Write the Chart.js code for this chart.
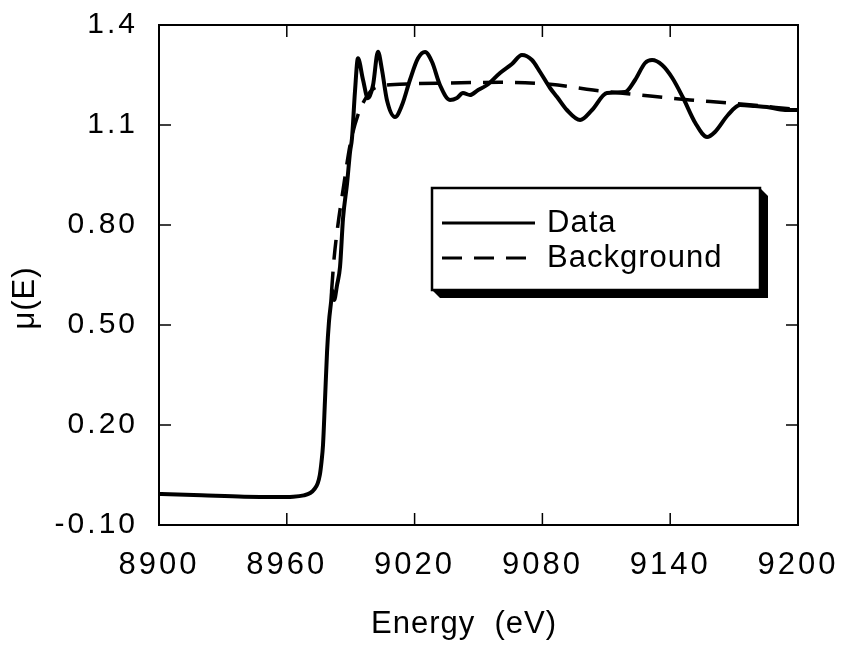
<!DOCTYPE html>
<html>
<head>
<meta charset="utf-8">
<script src="https://cdn.jsdelivr.net/npm/chart.js@4.4.0/dist/chart.umd.min.js"></script>
<style>
    html, body { margin: 0; padding: 0; background: #fff; }
    #wrap { width: 842px; height: 646px; }
</style>
</head>
<body>
<div id="wrap"><canvas id="xas"></canvas></div>
<script>
const dataEnergy = [
    8900, 8920, 8940, 8955, 8963, 8968, 8971, 8973, 8974.5, 8975.5,
    8976.3, 8977, 8977.9, 8978.9, 8979.8, 8980.8, 8981.3, 8982.2, 8983.6, 8985,
    8986.4, 8988.3, 8989.7, 8990.6, 8992, 8993.4, 8995.8, 8998.1, 9000.5, 9002.8,
    9004.7, 9007, 9010.8, 9014.1, 9017.8, 9021.6, 9024.9, 9028.2, 9031.9, 9036.6,
    9039.9, 9042.7, 9046, 9049.8, 9054, 9060.1, 9065.7, 9070.4, 9075.1, 9078.9,
    9083.6, 9086.9, 9091.5, 9097.7, 9103.3, 9110.3, 9118.8, 9123.5, 9128.2, 9131.5,
    9136.2, 9141, 9146.1, 9151.8, 9157.3, 9161, 9167.1, 9172.8, 9179.8, 9185.4,
    9193.9, 9200
]
const dataMu = [
    -0.007, -0.011, -0.015, -0.016, -0.015, -0.011, -0.004, 0.008, 0.025, 0.05,
    0.09, 0.14, 0.27, 0.42, 0.51, 0.57, 0.605, 0.575, 0.62, 0.675,
    0.82, 0.925, 1.02, 1.06, 1.2, 1.3, 1.235, 1.18, 1.22, 1.32,
    1.265, 1.175, 1.124, 1.16, 1.235, 1.3, 1.319, 1.289, 1.22, 1.175,
    1.181, 1.196, 1.19, 1.205, 1.22, 1.256, 1.283, 1.31, 1.295, 1.259,
    1.211, 1.184, 1.145, 1.115, 1.145, 1.196, 1.199, 1.235, 1.286, 1.295,
    1.28, 1.241, 1.181, 1.106, 1.064, 1.079, 1.13, 1.16, 1.157, 1.154,
    1.145, 1.145
]

// background spline
const bgEnergy = [8981, 8982.2, 8984, 8986.4, 8989.7, 8993.4, 8997, 9001, 9013, 9036.6, 9060, 9083.6, 9103.8, 9125.8, 9149.3, 9168.1, 9200]
const bgMu = [0.6, 0.7, 0.8, 0.905, 1.04, 1.13, 1.18, 1.21, 1.222, 1.226, 1.228, 1.222, 1.205, 1.19, 1.175, 1.166, 1.146]

const xTicks = [8900, 8960, 9020, 9080, 9140, 9200]
const yTicks = [-0.1, 0.2, 0.5, 0.8, 1.1, 1.4]
const yTickLabels = ['-0.10', '0.20', '0.50', '0.80', '1.1', '1.4']

const FONT = "'Liberation Sans', Arial, Helvetica, sans-serif"

const toPoints = (xs, ys) => xs.map((x, i) => ({ x: x, y: ys[i] }))

// keep tick labels from pushing the plot area around
const noScalePadding = (s) => {
    s.paddingTop = 0
    s.paddingBottom = 0
    s.paddingLeft = 0
    s.paddingRight = 0
}

// frame, inward ticks, axis titles and the boxed legend
const framePlugin = {
    id: 'frame',
    beforeDraw(chart) {
        chart.ctx.letterSpacing = '3px'
    },
    afterDraw(chart) {
        const ctx = chart.ctx
        const a = chart.chartArea
        const sx = chart.scales.x
        const sy = chart.scales.y
        const tl = 12
        ctx.save()
        ctx.letterSpacing = '0px'
        ctx.strokeStyle = '#000'
        ctx.lineWidth = 2
        ctx.strokeRect(a.left, a.top, a.right - a.left, a.bottom - a.top)
        ctx.lineWidth = 1.5
        ctx.beginPath()
        xTicks.forEach((v) => {
            const px = sx.getPixelForValue(v)
            ctx.moveTo(px, a.bottom); ctx.lineTo(px, a.bottom - tl)
            ctx.moveTo(px, a.top); ctx.lineTo(px, a.top + tl)
        })
        yTicks.forEach((v) => {
            const py = sy.getPixelForValue(v)
            ctx.moveTo(a.left, py); ctx.lineTo(a.left + tl, py)
            ctx.moveTo(a.right, py); ctx.lineTo(a.right - tl, py)
        })
        ctx.stroke()

        // axis titles
        ctx.fillStyle = '#000'
        ctx.letterSpacing = '1px'
        ctx.font = '31px ' + FONT
        ctx.textAlign = 'center'
        ctx.textBaseline = 'middle'
        ctx.fillText('Energy  (eV)', 464, 624)
        ctx.save()
        ctx.translate(25, 298)
        ctx.rotate(-Math.PI / 2)
        ctx.fillText('\u03bc(E)', 0, 0)
        ctx.restore()

        // legend box with drop shadow
        const L = 432, T = 188, R = 760, B = 290, sh = 8
        ctx.beginPath()
        ctx.moveTo(R, T); ctx.lineTo(R + sh, T + sh); ctx.lineTo(R + sh, B + sh)
        ctx.lineTo(L + sh, B + sh); ctx.lineTo(L, B); ctx.lineTo(R, B)
        ctx.closePath()
        ctx.fill()
        ctx.fillStyle = '#fff'
        ctx.fillRect(L, T, R - L, B - T)
        ctx.lineWidth = 2.5
        ctx.strokeRect(L, T, R - L, B - T)

        const rows = [223, 258]
        chart.data.datasets.forEach((ds, i) => {
            const y = rows[i]
            ctx.beginPath()
            ctx.setLineDash(ds.borderDash || [])
            ctx.lineWidth = 3
            ctx.strokeStyle = ds.borderColor
            ctx.moveTo(442, y); ctx.lineTo(535, y)
            ctx.stroke()
            ctx.setLineDash([])
            ctx.fillStyle = '#000'
            ctx.textAlign = 'left'
            ctx.fillText(ds.label, 547, y)
        })
        ctx.restore()
    }
}

const xas = new Chart(
    document.getElementById('xas'),
    {
        type: 'line',
        data: {
            datasets: [{
                label: 'Data',
                data: toPoints(dataEnergy, dataMu),
                borderColor: '#000',
                borderWidth: 4,
                pointRadius: 0,
                cubicInterpolationMode: 'monotone',
                fill: false,
            }, {
                label: 'Background',
                data: toPoints(bgEnergy, bgMu),
                borderColor: '#000',
                borderWidth: 3.5,
                borderDash: [20, 12],
                pointRadius: 0,
                cubicInterpolationMode: 'monotone',
                fill: false,
            }]
        },
        options: {
            responsive: true,
            maintainAspectRatio: false,
            animation: false,
            layout: { padding: { top: 25, right: 44, left: 0, bottom: 0 } },
            plugins: {
                legend: { display: false },
                tooltip: { enabled: false },
            },
            scales: {
                x: {
                    type: 'linear',
                    min: 8900,
                    max: 9200,
                    afterBuildTicks: (s) => { s.ticks = xTicks.map((v) => ({ value: v })) },
                    afterFit: (s) => { s.height = 121; noScalePadding(s) },
                    grid: { display: false, drawTicks: false },
                    border: { display: false },
                    ticks: {
                        color: '#000',
                        padding: 22,
                        maxRotation: 0,
                        font: { family: FONT, size: 31 },
                        callback: (v) => String(v),
                    },
                },
                y: {
                    type: 'linear',
                    min: -0.1,
                    max: 1.4,
                    afterBuildTicks: (s) => { s.ticks = yTicks.map((v) => ({ value: v })) },
                    afterFit: (s) => { s.width = 159; noScalePadding(s) },
                    grid: { display: false, drawTicks: false },
                    border: { display: false },
                    ticks: {
                        color: '#000',
                        padding: 21,
                        font: { family: FONT, size: 30 },
                        callback: (v) => {
                            const i = yTicks.findIndex((t) => Math.abs(t - v) < 1e-6)
                            return i >= 0 ? yTickLabels[i] : ''
                        },
                    },
                },
            },
        },
        plugins: [framePlugin],
    }
)
</script>
</body>
</html>
